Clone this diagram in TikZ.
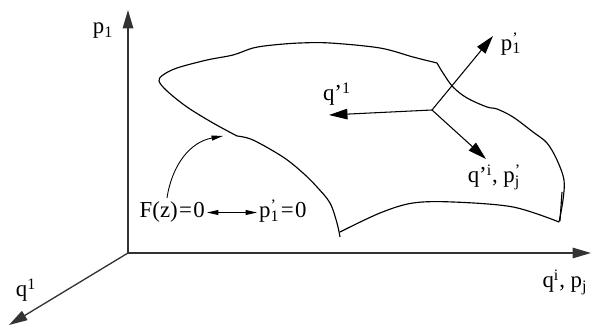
\documentclass[tikz,border=0pt]{standalone}
\usepackage{fontspec}
\setmainfont{Liberation Serif}
\usetikzlibrary{arrows.meta}
\newcommand{\supsub}[2]{\makebox[0pt][l]{\textsuperscript{#1}}\textsubscript{#2}}

\begin{document}
\begin{tikzpicture}[x=0.02cm, y=-0.02cm, font=\fontsize{13}{15}\selectfont,
  >={Triangle[length=10.5pt, width=6pt]},
  axis/.style={->, line width=0.75pt, black!80},
  vec/.style={->, line width=0.6pt},
  small/.style={line width=0.5pt, >={Triangle[length=6.5pt, width=2.8pt]}},
  surf/.style={line width=0.65pt, line join=round},
  lbl/.style={inner sep=1pt}]
  \useasboundingbox (0,0) rectangle (592,327);

  % axes
  \coordinate (O) at (128,253);
  \coordinate (ptop) at (128,10);
  \coordinate (qright) at (591,253);
  \coordinate (qleft) at (9,325);
  \draw[axis] (O) -- (ptop);
  \draw[axis] (O) -- (qright);
  \draw[axis] (O) -- (qleft);
  \node[lbl] (p1) at (103,31) {p\textsubscript{1}};
  \node[lbl] (q1) at (26,290) {q\textsuperscript{1}};
  \node[lbl] (qipj) at (565,282) {q\textsuperscript{i}, p\textsubscript{j}};

  % surface
  \draw[surf] plot[smooth, tension=0.55] coordinates {(340,237) (337,223) (330,203)
    (317,187) (303,173) (283,157) (253,140) (237,136)};
  \draw[surf] plot[smooth, tension=0.55] coordinates {(237,136) (213,123) (187,107)
    (167,91) (159,81) (163,75) (177,68) (207,60) (233,55) (253,48) (273,45)
    (300,43) (330,43) (380,48) (413,57) (437,63)};
  \draw[surf] plot[smooth, tension=0.55] coordinates {(437,63) (443,73) (453,87)
    (467,98) (487,107) (497,109) (513,117) (533,132) (547,143) (557,160)
    (564,180) (563,200) (559,222)};
  \draw[surf] plot[smooth, tension=0.55] coordinates {(559,222) (513,207)
    (453,202) (413,203) (380,213) (340,232)};
  \draw[surf] (562,192) -- (560,221);

  % vectors at a point of the surface
  \coordinate (base) at (432,110);
  \coordinate (ptip) at (493,36);
  \coordinate (qtip) at (329,115);
  \coordinate (qitip) at (486,159);
  \draw[vec] (base) -- (ptip);
  \draw[vec] (base) -- (qtip);
  \draw[vec] (base) -- (qitip);
  \node[lbl] (p1p) at (511,44) {p\supsub{’}{1}};
  \node[lbl] (q1p) at (337,94) {q’\textsuperscript{1}};
  \node[lbl] (qipjp) at (494,177) {q’\textsuperscript{i}, p\supsub{’}{j}};

  % constraint label
  \node[lbl, anchor=base east] (Fz) at (207,218) {F(z)\kern0.8pt=\kern0.8pt0};
  \node[lbl, anchor=base west] (pz) at (257,218) {p\supsub{’}{1}\kern0.8pt=\kern0.8pt0};
  \draw[small, <->] (Fz.east) -- (Fz.east -| pz.west);
  \coordinate (fstart) at (167,198);
  \coordinate (fend) at (223,136);
  \draw[small, ->] (fstart) .. controls (172,165) and (190,142) .. (fend);
\end{tikzpicture}
\end{document}
